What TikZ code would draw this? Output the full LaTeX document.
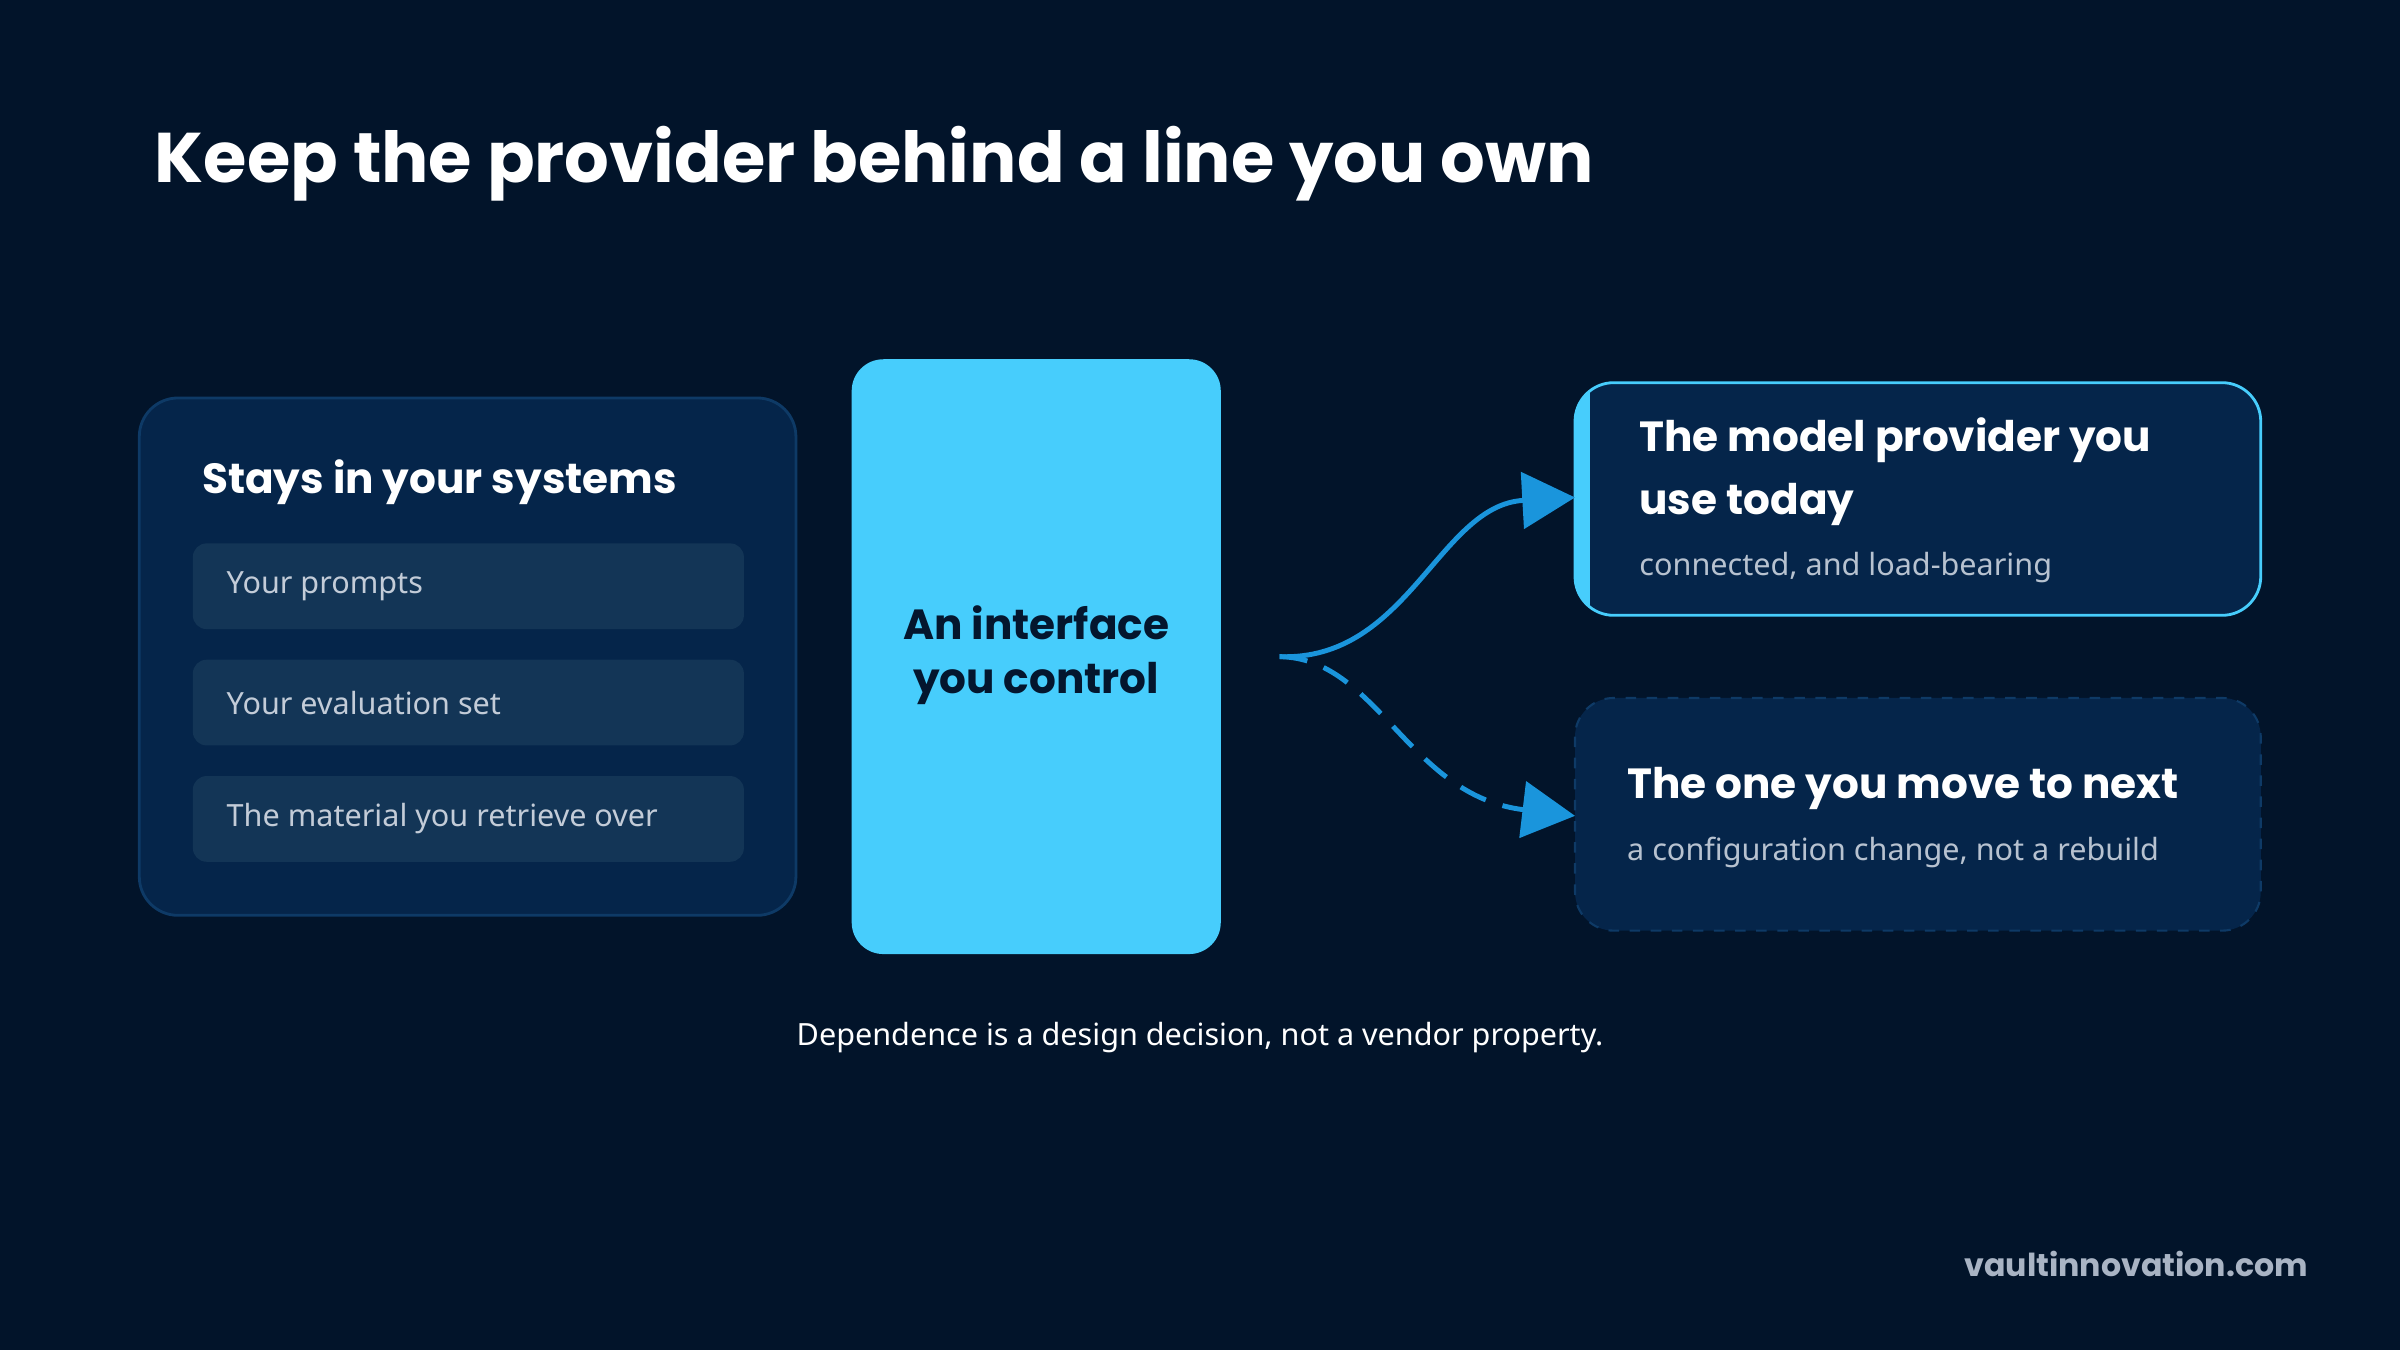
\documentclass[tikz,border=0pt]{standalone}
\usepackage{fontspec}
\setmainfont{Noto Sans}
\newfontfamily\pop{Poppins}
\usetikzlibrary{arrows.meta}
\definecolor{bg}{HTML}{02142A}
\definecolor{panel}{HTML}{05254A}
\definecolor{panelb}{HTML}{0E3A66}
\definecolor{item}{HTML}{133556}
\definecolor{itemtxt}{HTML}{C3CCD8}
\definecolor{cyanbox}{HTML}{47CDFC}
\definecolor{navytxt}{HTML}{04162E}
\definecolor{arr}{HTML}{1A95DC}
\definecolor{subtxt}{HTML}{B7C2D0}
\definecolor{brand}{HTML}{A9B4C4}
\begin{document}
\begin{tikzpicture}[x=0.015306cm,y=-0.015306cm,
  itemb/.style={fill=item,rounded corners=9pt*0.434,draw=none},
  itemt/.style={anchor=west,text=itemtxt,font=\fontsize{8.7}{10}\selectfont},
  head/.style={anchor=west,text=white,font=\pop\bfseries\fontsize{12}{18}\selectfont,align=left},
  sub/.style={anchor=west,text=subtxt,font=\fontsize{8.7}{10}\selectfont},
  flow/.style={arr,line width=1.4pt,-{Triangle[length=15pt,width=16pt]}}]
\fill[bg] (0,0) rectangle (1568,882);
\useasboundingbox (0,0) rectangle (1568,882);
\node[anchor=west,text=white,font=\pop\bfseries\fontsize{20}{24}\selectfont] (title) at (93,107) {Keep the provider behind a line you own};
% left panel
\draw[fill=panel,draw=panelb,line width=0.8pt,rounded corners=11pt] (91,260) rectangle (520,598);
\node[head] (lh) at (124,315) {Stays in your systems};
\fill[itemb] (126,355) rectangle (486,411);
\fill[itemb] (126,431) rectangle (486,487);
\fill[itemb] (126,507) rectangle (486,563);
\node[itemt] (i1) at (140,383) {Your prompts};
\node[itemt] (i2) at (140,459) {Your evaluation set};
\node[itemt] (i3) at (140,535) {The material you retrieve over};
% center
\node[fill=cyanbox,rounded corners=9pt,minimum width=242*0.4339pt,minimum height=390*0.4339pt,inner sep=0] (iface) at (677,429) {};
\node[text=navytxt,font=\pop\bfseries\fontsize{12}{15.5}\selectfont,align=center] (ift) at (677,428) {An interface\\you control};
% right boxes
\begin{scope}
\clip[rounded corners=11pt] (1029,250) rectangle (1477,402);
\fill[panel] (1029,250) rectangle (1477,402);
\fill[cyanbox] (1029,250) rectangle (1039,402);
\end{scope}
\draw[cyanbox,line width=0.8pt,rounded corners=11pt] (1029,250) rectangle (1477,402);
\node[head] (t1) at (1063,308) {The model provider you\\use today};
\node[sub] (s1) at (1063,371) {connected, and load-bearing};
\draw[fill=panel,draw=panelb,dashed,line width=0.6pt,rounded corners=11pt] (1029,456) rectangle (1477,608);
\node[head] (t2) at (1055,515) {The one you move to next};
\node[sub] (s2) at (1055,557) {a configuration change, not a rebuild};
\coordinate (src) at (836,429);
\coordinate (to1) at (1029,325);
\coordinate (to2) at (1029,533);
\draw[flow] (src) .. controls (920,432) and (940,330) .. (to1);
\draw[flow,dash pattern=on 8pt off 5pt] (src) .. controls (900,430) and (920,520) .. (to2);
\node[text=white,font=\fontsize{8.7}{10}\selectfont] (cap) at (784,678) {Dependence is a design decision, not a vendor property.};
\node[anchor=east,text=brand,font=\pop\fontsize{9}{10}\selectfont\bfseries] (brand) at (1516,826) {vaultinnovation.com};
\end{tikzpicture}
\end{document}
